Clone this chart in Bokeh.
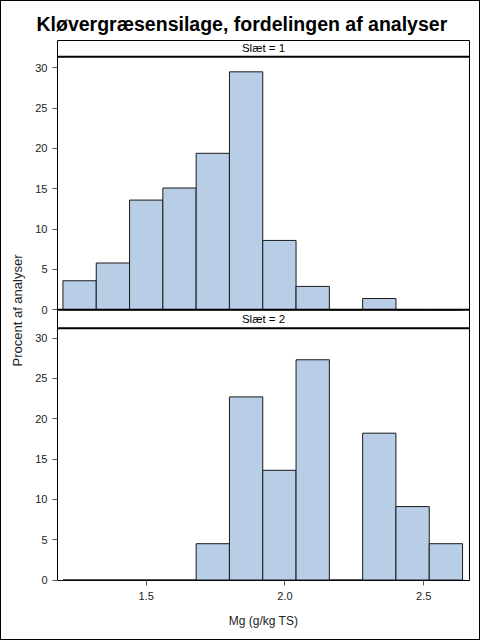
from bokeh.plotting import figure
from bokeh.models import (Range1d, FixedTicker, Span, Label, PrintfTickFormatter,
                          InlineStyleSheet)
from bokeh.embed import file_html
from bokeh.resources import INLINE

# ---- data ----
bin_edges = [1.20, 1.32, 1.44, 1.56, 1.68, 1.80, 1.92, 2.04, 2.16, 2.28, 2.40, 2.52, 2.64]
slaet1_pct = [3.6, 5.8, 13.6, 15.1, 19.4, 29.5, 8.6, 2.9, 0.0, 1.4, 0.0, 0.0]
slaet2_pct = [0.0, 0.0, 0.0, 0.0, 4.5, 22.7, 13.6, 27.3, 0.0, 18.2, 9.1, 4.5]
panel_labels = ["Sl\u00e6t = 1", "Sl\u00e6t = 2"]
y_ticks = [0, 5, 10, 15, 20, 25, 30]
x_ticks = [1.5, 2.0, 2.5]
title_text = "Kl\u00f8vergr\u00e6sensilage, fordelingen af analyser"
x_label = "Mg (g/kg TS)"
y_label = "Procent af analyser"

# ---- layout constants (pixels) ----
FONT = "Liberation Sans"
W, H = 472, 632
ML, MR, MT, MB = 57, 3, 40, 52
FRAME_W, FRAME_H = W - ML - MR, H - MT - MB          # 412 x 540
PXU = 242 / 30.0                                       # px per percent
ZERO2 = 579.5                                          # panel 2 zero (px from top)
ZERO1 = 309.3                                          # panel 1 zero (px from top)
Y2_START = -(MT + FRAME_H - ZERO2) / PXU
Y2_END = (ZERO2 - MT) / PXU
P1_OFF = (ZERO2 - ZERO1) / PXU
HDR1_LINE = (ZERO1 - 56.2) / PXU
HDR1_MID = (ZERO1 - 47.7) / PXU
HDR2_LINE = (ZERO2 - 327.8) / PXU
HDR2_MID = (ZERO2 - 318.7) / PXU
PXX = 277.5
X_START = 1.5 - (145.7 - ML) / PXX
X_END = X_START + FRAME_W / PXX

p = figure(width=W, height=H,
           min_border_left=ML, min_border_right=MR,
           min_border_top=MT, min_border_bottom=MB,
           x_range=Range1d(X_START, X_END), y_range=Range1d(Y2_START, Y2_END),
           output_backend="svg", toolbar_location=None,
           background_fill_color="white", border_fill_color="white")
p.styles = {"position": "relative"}
p.stylesheets = [InlineStyleSheet(css=(
    ":host::after { content: ''; position: absolute; left: 0; top: 0; "
    "width: 480px; height: 640px; border: 1px solid black; box-sizing: border-box; "
    "pointer-events: none; }"))]
p.extra_y_ranges = {"p1": Range1d(Y2_START - P1_OFF, Y2_END - P1_OFF)}
p.grid.visible = False
p.outline_line_color = "black"
p.outline_line_width = 1

# bars
p.quad(left=bin_edges[:-1], right=bin_edges[1:], bottom=0, top=slaet1_pct,
       y_range_name="p1", fill_color="#b8cde6", line_color="#1a1a1a", line_width=1)
p.quad(left=bin_edges[:-1], right=bin_edges[1:], bottom=0, top=slaet2_pct,
       fill_color="#b8cde6", line_color="#1a1a1a", line_width=1)

# headers & separators
p.add_layout(Span(location=HDR1_LINE, dimension="width", y_range_name="p1",
                  line_color="black", line_width=2))
p.add_layout(Span(location=0, dimension="width", y_range_name="p1",
                  line_color="black", line_width=2))
p.add_layout(Span(location=HDR2_LINE, dimension="width",
                  line_color="black", line_width=2))
xmid = (X_START + X_END) / 2
p.add_layout(Label(x=xmid, y=HDR1_MID, y_range_name="p1",
                   text=panel_labels[0], text_align="center", text_baseline="middle",
                   text_font=FONT, text_font_size="11.5px", text_color="black"))
p.add_layout(Label(x=xmid, y=HDR2_MID,
                   text=panel_labels[1], text_align="center", text_baseline="middle",
                   text_font=FONT, text_font_size="11.5px", text_color="black"))

# y axis (two panels on one axis)
yt = list(y_ticks) + [round(t + P1_OFF, 6) for t in y_ticks]
p.yaxis.ticker = FixedTicker(ticks=yt)
p.yaxis.major_label_overrides = {round(t + P1_OFF, 6): str(t) for t in y_ticks}
p.yaxis.axis_label = y_label
p.xaxis.ticker = FixedTicker(ticks=x_ticks)
p.xaxis.formatter = PrintfTickFormatter(format="%.1f")
p.xaxis.axis_label = x_label
for ax in (p.xaxis, p.yaxis):
    ax.axis_line_color = None
    ax.major_tick_out = 5
    ax.major_tick_in = 0
    ax.minor_tick_line_color = None
    ax.major_tick_line_color = "#555555"
    ax.major_label_text_font = FONT
    ax.major_label_text_font_size = "11px"
    ax.major_label_text_color = "#222222"
    ax.major_label_standoff = 5
    ax.axis_label_text_font = FONT
    ax.axis_label_text_font_style = "normal"
    ax.axis_label_text_color = "#222222"
p.xaxis.axis_label_text_font_size = "12px"
p.yaxis.axis_label_text_font_size = "13px"
p.xaxis.major_label_standoff = 6
p.xaxis.axis_label_standoff = 11
p.yaxis.axis_label_standoff = 7

p.title.text = title_text
p.title.text_font = FONT
p.title.text_font_size = "19.5px"
p.title.text_font_style = "bold"
p.title.align = "left"
p.title.offset = -21
p.title.standoff = 12
p.title.text_color = "black"

open("out.html", "w").write(file_html(p, INLINE))
